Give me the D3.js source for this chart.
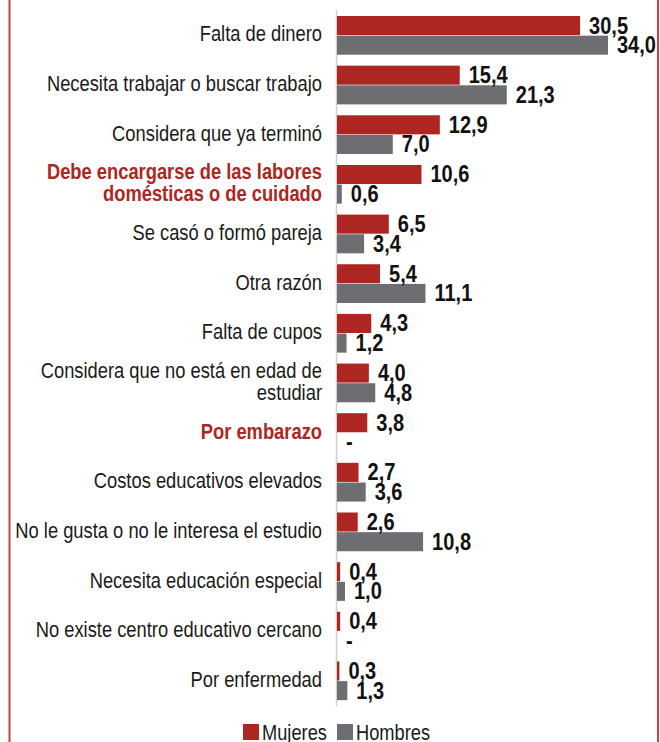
<!DOCTYPE html>
<html>
<head>
<meta charset="utf-8">
<script src="https://cdn.jsdelivr.net/npm/d3@7"></script>
<style>
  html, body { margin: 0; padding: 0; background: #fff; }
  svg { display: block; }
  text { font-family: "Liberation Sans", Arial, sans-serif; }
</style>
</head>
<body>
<svg id="chart" width="660" height="742"></svg>
<script>
const categories = [
  "Falta de dinero",
  "Necesita trabajar o buscar trabajo",
  "Considera que ya terminó",
  "Debe encargarse de las labores|domésticas o de cuidado",
  "Se casó o formó pareja",
  "Otra razón",
  "Falta de cupos",
  "Considera que no está en edad de|estudiar",
  "Por embarazo",
  "Costos educativos elevados",
  "No le gusta o no le interesa el estudio",
  "Necesita educación especial",
  "No existe centro educativo cercano",
  "Por enfermedad"
];
const mujeres = [30.5, 15.4, 12.9, 10.6, 6.5, 5.4, 4.3, 4.0, 3.8, 2.7, 2.6, 0.4, 0.4, 0.3];
const hombres = [34.0, 21.3, 7.0, 0.6, 3.4, 11.1, 1.2, 4.8, null, 3.6, 10.8, 1.0, null, 1.3];
const highlighted = [
  "Debe encargarse de las labores|domésticas o de cuidado",
  "Por embarazo"
];
const seriesNames = ["Mujeres", "Hombres"];
const seriesColors = ["#ad2621", "#6d6e71"];

// horizontal condensation factors to mimic a condensed typeface
const SX_LABEL = 0.815, SX_VAL = 0.87, SX_LEG = 0.83;

const svg = d3.select("#chart");
const x0 = 337;
const x = d3.scaleLinear().domain([0, 34]).range([x0, 608]);
const step = 49.65;
const y = d3.scaleBand()
  .domain(categories)
  .range([16 - 0.11 * step, 16 - 0.11 * step + categories.length * step])
  .paddingInner(0.22)
  .paddingOuter(0.11);
const ySub = d3.scaleBand().domain(seriesNames).range([0, y.bandwidth()]).paddingInner(0.03);
const color = d3.scaleOrdinal().domain(seriesNames).range(seriesColors);
const fmt = v => d3.format(".1f")(v).replace(".", ",");
const tf = (px, py, sx) => `translate(${px},${py}) scale(${sx},1)`;

// frame side borders
svg.append("line").attr("x1", 9.5).attr("x2", 9.5).attr("y1", 0).attr("y2", 742)
  .attr("stroke", "#c4453f").attr("stroke-width", 2);
svg.append("line").attr("x1", 658).attr("x2", 658).attr("y1", 0).attr("y2", 742)
  .attr("stroke", "#c4453f").attr("stroke-width", 2);

// axis line
svg.append("line").attr("x1", x0 - 0.5).attr("x2", x0 - 0.5)
  .attr("y1", 10).attr("y2", 706)
  .attr("stroke", "#d0d0d0").attr("stroke-width", 1.5);

const rows = categories.map((c, i) => ({
  cat: c,
  vals: [{s: "Mujeres", v: mujeres[i]}, {s: "Hombres", v: hombres[i]}]
}));

const g = svg.selectAll("g.row").data(rows).join("g")
  .attr("class", "row")
  .attr("transform", d => `translate(0,${y(d.cat)})`);

g.selectAll("rect").data(d => d.vals.filter(e => e.v != null)).join("rect")
  .attr("x", x0)
  .attr("y", d => ySub(d.s))
  .attr("width", d => x(d.v) - x0)
  .attr("height", ySub.bandwidth())
  .attr("fill", d => color(d.s));

g.selectAll("text.val").data(d => d.vals).join("text")
  .attr("class", "val")
  .attr("transform", d => tf((d.v == null ? x0 : x(d.v)) + 9, ySub(d.s) + ySub.bandwidth() / 2 + 8, SX_VAL))
  .attr("font-size", 23)
  .attr("font-weight", "bold")
  .attr("fill", "#111")
  .text(d => d.v == null ? "-" : fmt(d.v));

// category labels
g.each(function(d) {
  const lines = d.cat.split("|");
  const hi = highlighted.includes(d.cat);
  const lh = 22;
  const cy = y.bandwidth() / 2;
  lines.forEach((ln, k) => {
    d3.select(this).append("text")
      .attr("transform", tf(322, cy + 6 + (k - (lines.length - 1) / 2) * lh, SX_LABEL))
      .attr("text-anchor", "end")
      .attr("font-size", 22.5)
      .attr("font-weight", hi ? "bold" : "normal")
      .attr("fill", hi ? "#ad2621" : "#1a1a1a")
      .text(ln);
  });
});

// legend
const legend = svg.append("g");
const legX = [243, 337];
seriesNames.forEach((s, i) => {
  legend.append("rect").attr("x", legX[i]).attr("y", 724).attr("width", 16).attr("height", 16)
    .attr("fill", color(s));
  legend.append("text").attr("transform", tf(legX[i] + 19, 740, SX_LEG))
    .attr("font-size", 22).attr("fill", "#1a1a1a").text(s);
});
</script>
</body>
</html>
